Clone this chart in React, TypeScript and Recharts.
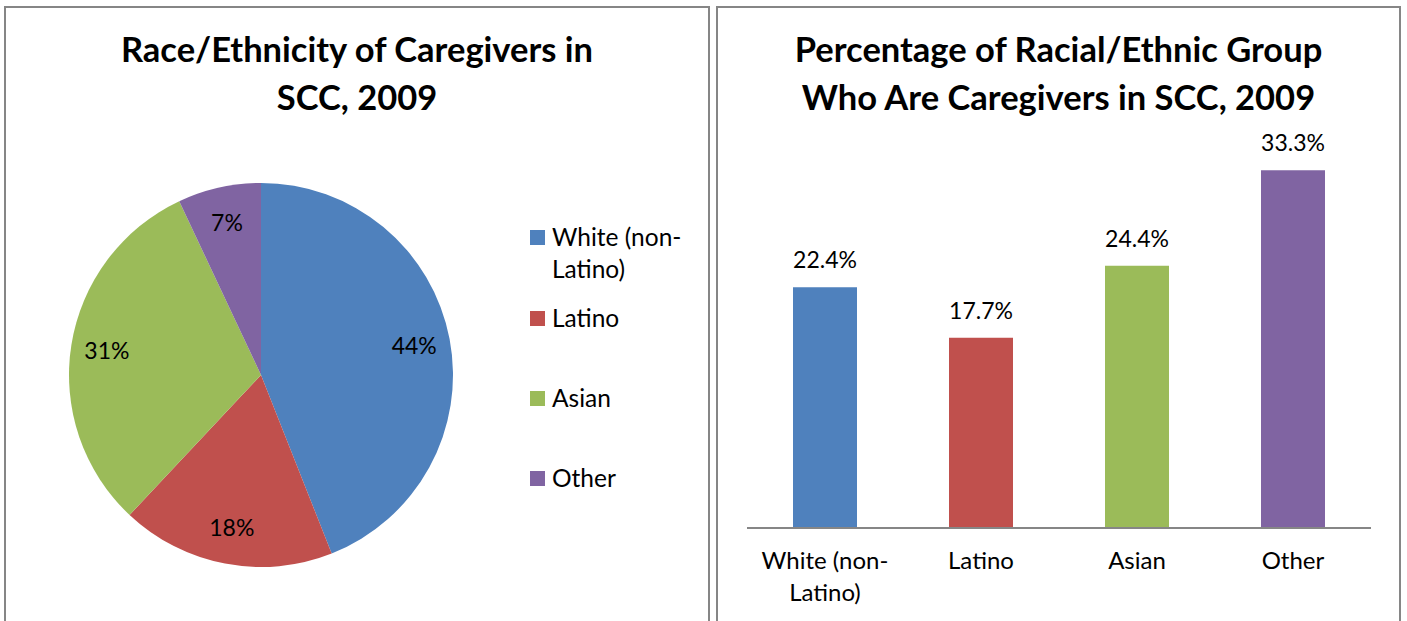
import React from 'react';
import {
  PieChart, Pie, Cell,
  BarChart, Bar, XAxis, YAxis, LabelList,
} from 'recharts';

// Race/ethnicity groups, shared by both charts
const GROUPS = ['White (non-Latino)', 'Latino', 'Asian', 'Other'];
// share of all caregivers (%)
const SHARE_OF_CAREGIVERS = [44, 18, 31, 7];
// share of each group that are caregivers (%)
const PCT_WHO_ARE_CAREGIVERS = [22.4, 17.7, 24.4, 33.3];

const COLORS = ['#4F81BD', '#C0504D', '#9BBB59', '#8064A2']; // blue, red, green, purple

const FONT = 'Lato, "Open Sans", sans-serif';
const BORDER = '#868686';

const pieData = GROUPS.map((name, i) => ({ name, value: SHARE_OF_CAREGIVERS[i] }));
const barData = GROUPS.map((name, i) => ({ name, value: PCT_WHO_ARE_CAREGIVERS[i] }));

const RADIAN = Math.PI / 180;

const renderPieLabel = (props: any) => {
  const { cx, cy, midAngle, value } = props;
  const r = 156;
  const x = cx + r * Math.cos(-midAngle * RADIAN);
  const y = cy + r * Math.sin(-midAngle * RADIAN);
  return (
    <text x={x} y={y} dy={8} textAnchor="middle" fill="#000" fontSize={23} fontFamily={FONT}>
      {`${value}%`}
    </text>
  );
};

// legend for the pie, one slot per group
const PieLegend = () => (
  <div style={{ position: 'absolute', left: 530, top: 221, width: 175, fontFamily: FONT, fontSize: 24.5, color: '#000' }}>
    {GROUPS.map((name, i) => (
      <div key={`leg-${i}`} style={{ display: 'flex', alignItems: 'flex-start', height: i === 0 ? 81 : 80 }}>
        <span style={{ width: 15, height: 15, background: COLORS[i], marginTop: 9, marginRight: 7, flex: 'none' }} />
        <span style={{ lineHeight: '32px', width: 150 }}>{name}</span>
      </div>
    ))}
  </div>
);

// category labels wrap after the hyphen, like "White (non-" / "Latino)"
const CategoryTick = (props: any) => {
  const { x, y, payload } = props;
  const lines = String(payload.value).replace('-', '-\n').split('\n');
  return (
    <g>
      {lines.map((line, i) => (
        <text key={i} x={x} y={y} dy={33 + i * 32} textAnchor="middle" fill="#000" fontSize={24} fontFamily={FONT}>
          {line}
        </text>
      ))}
    </g>
  );
};

const titleStyle: React.CSSProperties = {
  position: 'absolute',
  top: 25,
  left: 0,
  width: '100%',
  textAlign: 'center',
  fontFamily: FONT,
  fontWeight: 700,
  fontSize: 34.5,
  lineHeight: '48px',
  color: '#000',
};

export default function App() {
  return (
    <div style={{ position: 'absolute', left: 0, top: 0, width: 1407, height: 621, background: '#fff', overflow: 'hidden' }}>
      {/* pie panel */}
      <div style={{ position: 'absolute', left: 4, top: 6, width: 702, height: 640, border: `2px solid ${BORDER}` }} />
      <div style={{ position: 'absolute', left: 4, top: 0, width: 706 }}>
        <div style={titleStyle}>
          Race/Ethnicity of Caregivers in<br />SCC, 2009
        </div>
      </div>
      <div style={{ position: 'absolute', left: 0, top: 0 }}>
        <PieChart width={710} height={621} margin={{ top: 0, right: 0, bottom: 0, left: 0 }}>
          <Pie
            data={pieData}
            dataKey="value"
            nameKey="name"
            cx={261}
            cy={375}
            outerRadius={192}
            startAngle={90}
            endAngle={-270}
            stroke="none"
            label={renderPieLabel}
            labelLine={false}
            isAnimationActive={false}
          >
            {pieData.map((_, i) => (
              <Cell key={`cell-${i}`} fill={COLORS[i]} />
            ))}
          </Pie>
        </PieChart>
      </div>
      <PieLegend />

      {/* bar panel */}
      <div style={{ position: 'absolute', left: 716, top: 6, width: 681, height: 640, border: `2px solid ${BORDER}` }} />
      <div style={{ position: 'absolute', left: 716, top: 0, width: 685 }}>
        <div style={titleStyle}>
          Percentage of Racial/Ethnic Group<br />Who Are Caregivers in SCC, 2009
        </div>
      </div>
      <div style={{ position: 'absolute', left: 716, top: 0 }}>
        <BarChart
          width={685}
          height={621}
          data={barData}
          margin={{ top: 152, right: 30, bottom: 33, left: 31 }}
          barCategoryGap={46}
        >
          <XAxis
            dataKey="name"
            axisLine={{ stroke: BORDER, strokeWidth: 2 }}
            tickLine={false}
            tick={<CategoryTick />}
            interval={0}
            height={60}
          />
          <YAxis hide domain={[0, 35]} />
          <Bar dataKey="value" isAnimationActive={false}>
            {barData.map((_, i) => (
              <Cell key={`bar-${i}`} fill={COLORS[i]} />
            ))}
            <LabelList
              dataKey="value"
              position="top"
              offset={19}
              formatter={(v: any) => `${v}%`}
              fill="#000"
              fontSize={23}
              fontFamily={FONT}
            />
          </Bar>
        </BarChart>
      </div>
    </div>
  );
}
